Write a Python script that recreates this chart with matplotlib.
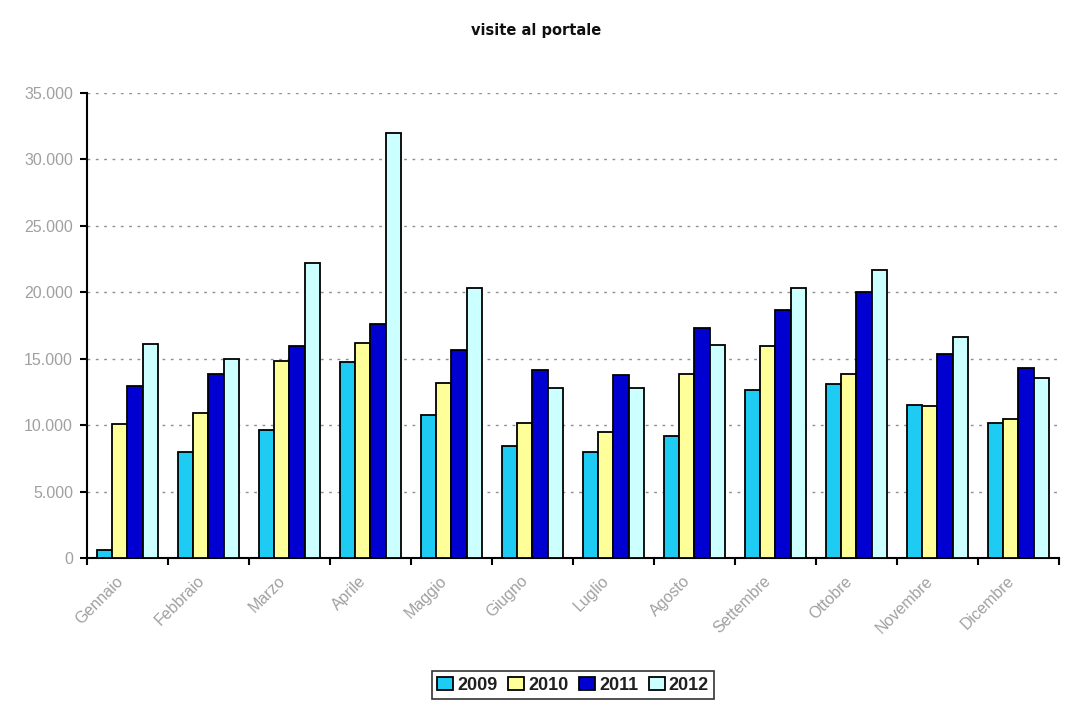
import matplotlib
matplotlib.use("Agg")
import matplotlib.pyplot as plt
import matplotlib.transforms as mtransforms
import numpy as np
from matplotlib.ticker import FuncFormatter, FixedLocator, NullFormatter

months = ["Gennaio", "Febbraio", "Marzo", "Aprile", "Maggio", "Giugno",
          "Luglio", "Agosto", "Settembre", "Ottobre", "Novembre", "Dicembre"]
years = ["2009", "2010", "2011", "2012"]

v2009 = [600, 8000, 9600, 14750, 10800, 8450, 7950, 9200, 12650, 13100, 11550, 10200]
v2010 = [10050, 10950, 14850, 16200, 13200, 10200, 9450, 13850, 15950, 13850, 11450, 10500]
v2011 = [12950, 13850, 15950, 17600, 15650, 14150, 13800, 17300, 18700, 20050, 15350, 14300]
v2012 = [16100, 15000, 22200, 32000, 20300, 12800, 12800, 16050, 20300, 21650, 16650, 13550]

series = [v2009, v2010, v2011, v2012]
colors = ["#1ECBF2", "#FFFF99", "#0000D0", "#CCFFFF"]

fig = plt.figure(figsize=(10.67, 7.02), dpi=100)
ax = fig.add_axes([0.0815, 0.2051, 0.911, 0.6624])

x = np.arange(len(months))
bw = 0.1875
for i, (vals, c, lab) in enumerate(zip(series, colors, years)):
    ax.bar(x - 1.5 * bw + i * bw, vals, width=bw, color=c, edgecolor="black",
           linewidth=1.3, label=lab, zorder=3)

ax.set_xlim(-0.5, len(months) - 0.5)
ax.set_ylim(0, 35000)
ax.set_yticks(np.arange(0, 35001, 5000))
ax.yaxis.set_major_formatter(FuncFormatter(lambda v, p: f"{int(v):,}".replace(",", ".")))

# ticks at category boundaries, labels at category centres
ax.xaxis.set_major_locator(FixedLocator(np.arange(-0.5, len(months), 1.0)))
ax.xaxis.set_major_formatter(NullFormatter())
ax.xaxis.set_minor_locator(FixedLocator(x))
ax.set_xticklabels(months, minor=True, rotation=45, ha="right", rotation_mode="anchor",
                   color="#A0A0A0", fontsize=11.5, family="Liberation Sans")
ax.tick_params(axis="x", which="minor", length=0, pad=11)
ax.tick_params(axis="x", which="major", length=5, width=1.5, direction="out", color="black")
shift = mtransforms.ScaledTranslation(-12 / 100, 0, fig.dpi_scale_trans)
for t in ax.xaxis.get_minorticklabels():
    t.set_transform(t.get_transform() + shift)

ax.tick_params(axis="y", length=5, width=1.5, direction="out", color="black",
               labelcolor="#A0A0A0", labelsize=11.5, pad=5)
for t in ax.get_yticklabels():
    t.set_family("Liberation Sans")

ax.grid(axis="y", color="#909090", linestyle=(0, (2, 4)), linewidth=1.0, zorder=0)
ax.set_axisbelow(True)
for s in ["top", "right"]:
    ax.spines[s].set_visible(False)
for s in ["left", "bottom"]:
    ax.spines[s].set_linewidth(1.5)
    ax.spines[s].set_color("black")

fig.text(0.502, 0.956, "visite al portale", ha="center", va="center",
         fontsize=10.5, fontweight="bold", family="DejaVu Sans", color="#101010")

leg = fig.legend(loc="center", bbox_to_anchor=(0.537, 0.024), ncol=4, frameon=True,
                 fancybox=False, edgecolor="black", handlelength=0.9, handleheight=0.8,
                 handletextpad=0.2, columnspacing=0.6, borderpad=0.3,
                 prop={"family": "Liberation Sans", "size": 13, "weight": "bold"})
leg.get_frame().set_linewidth(1.2)
for t in leg.get_texts():
    t.set_color("#202020")

fig.savefig("out.png", dpi=100)
